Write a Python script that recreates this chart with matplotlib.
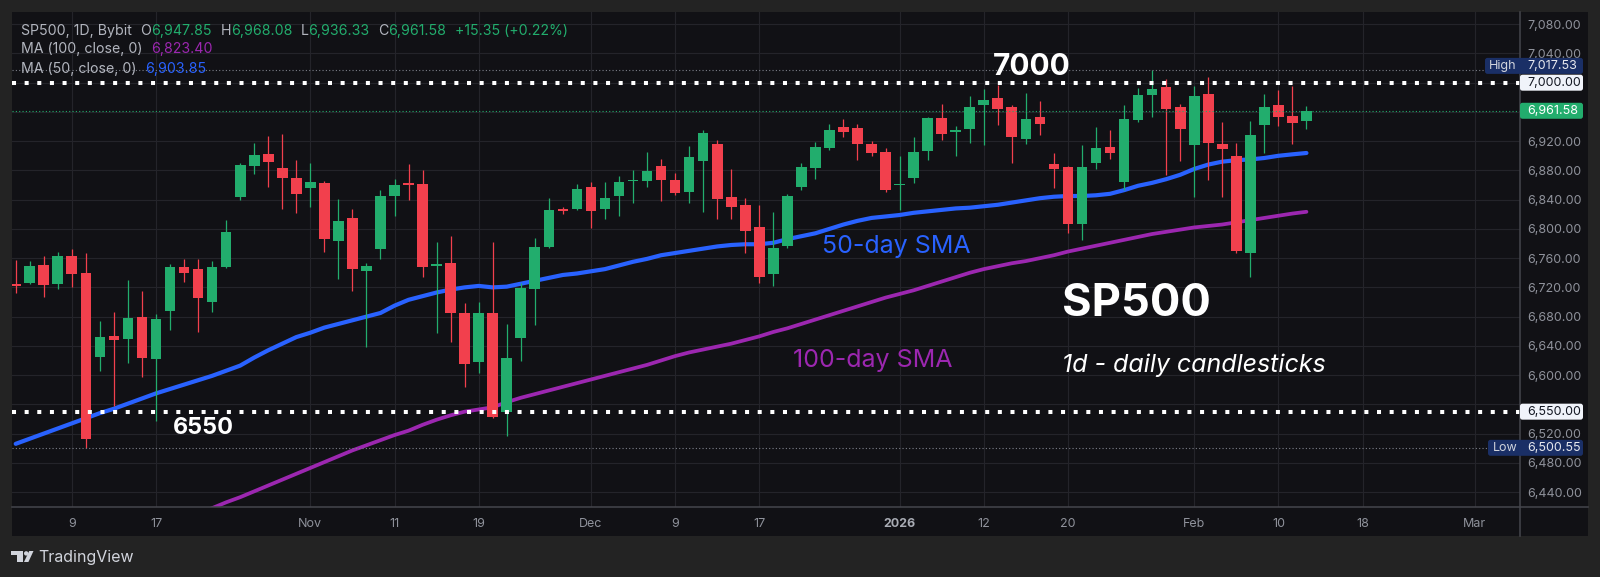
import matplotlib
matplotlib.use("Agg")
import matplotlib.pyplot as plt
import numpy as np
from matplotlib import font_manager as fm
from matplotlib.patches import Rectangle, FancyBboxPatch, Polygon, Circle
from matplotlib.transforms import IdentityTransform
from matplotlib.lines import Line2D

plt.rcParams['lines.scale_dashes'] = False

# ---------------- data ----------------
opens = [6724, 6725.6, 6750.2, 6724.6, 6762.9, 6740.1, 6624.4, 6653.5, 6649.0, 6679.9,
         6622.5, 6688.1, 6748.3, 6745.2, 6700.4, 6747.5, 6844.0, 6886.0, 6902.5, 6882.9,
         6869.6, 6856.4, 6862.8, 6783.0, 6814.9, 6742.4, 6772.1, 6845.4, 6862.4, 6861.4,
         6749.7, 6753.0, 6684.6, 6618.4, 6684.6, 6550.1, 6650.4, 6717.4, 6775.7, 6826.8,
         6826.8, 6857.7, 6827.6, 6845.4, 6865.1, 6865.1, 6886.0, 6867.3, 6850.5, 6893.3,
         6916.1, 6843.7, 6832.7, 6803.0, 6737.9, 6776.6, 6856.9, 6883.7, 6910.7, 6939.0,
         6937.6, 6915.7, 6904.8, 6860.0, 6869.6, 6907.0, 6951.3, 6933.0, 6936.2, 6969.9,
         6978.6, 6966.3, 6923.4, 6953.1, 6888.4, 6884.3, 6806.7, 6889.7, 6912.4, 6864.6,
         6949.0, 6983.6, 6994.5, 6967.2, 6915.2, 6984.5, 6915.7, 6899.7, 6767.5, 6941.7,
         6969.1, 6954.4, 6947.85]
highs = [6757.5, 6756.1, 6763.0, 6768.0, 6772.5, 6766.6, 6674.0, 6685.9, 6730.1, 6715.1,
         6683.6, 6751.6, 6758.4, 6758.8, 6756.5, 6812.2, 6890.6, 6917.9, 6927.5, 6929.4,
         6894.3, 6890.6, 6865.5, 6840.9, 6827.2, 6753.0, 6853.2, 6867.9, 6888.4, 6880.6,
         6782.1, 6790.3, 6698.3, 6699.6, 6782.1, 6669.9, 6725.6, 6787.2, 6841.9, 6830.4,
         6861.4, 6864.2, 6864.2, 6872.4, 6880.6, 6905.2, 6895.6, 6876.9, 6913.4, 6935.3,
         6921.6, 6882.4, 6841.9, 6832.7, 6823.5, 6847.7, 6890.6, 6918.5, 6943.5, 6949.9,
         6943.5, 6920.6, 6911.1, 6899.7, 6925.3, 6953.5, 6970.8, 6940.8, 6981.8, 6991.0,
         6996.4, 6969.5, 6985.5, 6975.0, 6904.2, 6886.0, 6914.8, 6939.0, 6935.3, 6969.5,
         6993.2, 7017.53, 7004.6, 6970.8, 6995.5, 7007.4, 6946.2, 6917.1, 6947.6, 6984.5,
         6990.0, 6995.5, 6968.08]
lows = [6711.9, 6724.6, 6707.3, 6718.2, 6721.0, 6500.55, 6606.1, 6558.2, 6616.2, 6597.0,
        6537.7, 6661.7, 6727.8, 6659.4, 6686.8, 6747.0, 6839.1, 6875.5, 6857.7, 6826.8,
        6821.3, 6829.6, 6768.0, 6731.1, 6715.5, 6638.9, 6758.4, 6818.1, 6839.5, 6733.8,
        6658.0, 6645.7, 6584.2, 6603.3, 6541.0, 6517.1, 6619.7, 6669.0, 6773.5, 6820.8,
        6825.9, 6801.7, 6813.1, 6818.1, 6835.9, 6856.9, 6837.8, 6846.4, 6835.0, 6823.5,
        6813.1, 6813.1, 6767.5, 6726.4, 6722.3, 6773.5, 6853.2, 6867.9, 6907.9, 6926.1,
        6894.3, 6900.1, 6850.5, 6825.9, 6862.4, 6894.3, 6921.6, 6900.1, 6917.9, 6914.8,
        6942.1, 6890.6, 6916.1, 6928.5, 6856.4, 6794.0, 6784.8, 6881.5, 6895.6, 6853.2,
        6946.2, 6952.7, 6873.3, 6893.3, 6844.0, 6866.9, 6844.0, 6767.5, 6734.6, 6904.2,
        6941.2, 6915.7, 6936.33]
closes = [6722, 6749.7, 6723.3, 6762.5, 6738.7, 6512.2, 6652.6, 6647.6, 6677.7, 6623.0,
          6676.3, 6748.3, 6740.1, 6705.1, 6748.3, 6795.8, 6887.0, 6901.1, 6891.1, 6869.2,
          6848.2, 6864.6, 6786.2, 6811.2, 6745.6, 6749.3, 6845.0, 6860.5, 6860.5, 6748.3,
          6751.6, 6685.4, 6614.8, 6685.4, 6543.1, 6623.4, 6718.8, 6775.3, 6825.9, 6824.5,
          6854.6, 6825.0, 6841.9, 6864.6, 6866.9, 6879.2, 6866.5, 6848.7, 6898.0, 6930.8,
          6840.9, 6829.6, 6797.5, 6734.6, 6774.3, 6845.0, 6884.3, 6912.4, 6935.3, 6933.0,
          6915.7, 6903.4, 6853.2, 6861.4, 6905.6, 6951.3, 6929.8, 6934.9, 6967.2, 6976.3,
          6963.6, 6926.1, 6949.9, 6943.5, 6882.4, 6806.7, 6885.1, 6911.1, 6904.2, 6950.3,
          6983.2, 6991.0, 6963.6, 6937.1, 6981.8, 6917.9, 6908.9, 6770.2, 6928.0, 6966.7,
          6953.5, 6945.3, 6961.58]

ma50 = [6506, 6513, 6520, 6527, 6534, 6541, 6548, 6554, 6561, 6568,
        6575, 6581, 6587, 6593, 6599, 6606, 6613, 6624, 6634, 6643,
        6652, 6658, 6665, 6670, 6675, 6680, 6685, 6695, 6703, 6708,
        6713, 6717, 6720, 6722, 6720, 6721, 6725, 6729, 6733, 6737,
        6739, 6742, 6745, 6750, 6755, 6759, 6764, 6767, 6770, 6773,
        6776, 6778, 6779, 6779, 6781, 6786, 6790, 6794, 6800, 6806,
        6811, 6815, 6817, 6819, 6822, 6824, 6826, 6828, 6829, 6831,
        6833, 6836, 6839, 6842, 6844, 6845, 6845, 6846, 6848, 6853,
        6859, 6863, 6868, 6874, 6882, 6888, 6892, 6894, 6895, 6897,
        6900, 6902, 6903.85]

ma100 = [None] * 13 + [
        6410, 6418, 6426, 6433, 6441, 6449, 6457, 6465, 6473, 6481,
        6489, 6497, 6504, 6511, 6518, 6524, 6532, 6539, 6545, 6550,
        6553, 6556, 6563, 6569, 6574, 6579, 6584, 6589, 6594, 6599,
        6604, 6609, 6614, 6620, 6626, 6631, 6635, 6639, 6643, 6648,
        6653, 6659, 6664, 6670, 6676, 6682, 6688, 6694, 6700, 6706,
        6711, 6716, 6722, 6728, 6734, 6740, 6745, 6749, 6753, 6756,
        6760, 6764, 6769, 6773, 6777, 6781, 6785, 6789, 6793, 6796,
        6799, 6802, 6804, 6806, 6809, 6812, 6815, 6818, 6821, 6823.4]

time_labels = ["9", "17", "Nov", "11", "19", "Dec", "9", "17", "2026",
               "12", "20", "Feb", "10", "18", "Mar"]
time_label_bars = [4, 10, 21, 27, 33, 41, 47, 53, 63, 69, 75, 84, 90, 96, 104]
price_ticks = list(range(6440, 7081, 40))

level_values = [7000, 6550]
level_labels = ["7000", "6550"]
range_high = 7017.53
range_low = 6500.55

legend_symbol = "SP500, 1D, Bybit"
change_text = "+15.35 (+0.22%)"
ma100_name = "MA (100, close, 0)"
ma50_name = "MA (50, close, 0)"

# ---------------- fonts ----------------
def pick(cands, weight='normal', style='normal'):
    for fam in cands:
        try:
            p = fm.findfont(fm.FontProperties(family=fam, weight=weight, style=style),
                            fallback_to_default=False)
        except Exception:
            continue
        name = p.lower().split('/')[-1].replace(' ', '').replace('-', '').replace('_', '')
        if fam.lower().replace(' ', '') not in name:
            continue
        if weight == 'bold' and 'bold' not in name:
            continue
        if style == 'italic' and not ('italic' in name or 'oblique' in name):
            continue
        return fam
    return 'DejaVu Sans'

CANDS = ['Inter', 'Roboto', 'Open Sans', 'Lato', 'Liberation Sans', 'DejaVu Sans']
F_REG = pick(CANDS)
F_BOLD = pick(CANDS, weight='bold')
F_ITAL = pick(CANDS, style='italic')
plt.rcParams['font.family'] = [F_REG, 'DejaVu Sans']

# ---------------- colors ----------------
BG_OUT = '#232323'
BG = '#111115'
GRID = '#24242a'
UP = '#22ad6d'
DN = '#f2404d'
BLUE = '#2962ff'
PURPLE = '#9c27b0'
TXT = '#b2b5be'
AXTXT = '#8f929b'

W, H = 1600, 577
fig = plt.figure(figsize=(W / 100, H / 100), dpi=100, facecolor=BG_OUT)
I = IdentityTransform()

# panels behind axes (price scale + time scale)
fig.add_artist(Rectangle((12, H - 536), 1588 - 12, 536 - 12, transform=I,
                         fc=BG, ec='none', zorder=-5))

ax = fig.add_axes([12 / W, (H - 506.7) / H, (1519.7 - 12) / W, (506.7 - 12) / H])
ax.set_facecolor(BG)
ax.set_xlim(-0.264, 107.2)
ax.set_ylim(6420.0, 7096.7)
for s in ax.spines.values():
    s.set_visible(False)

# price scale labels that sit under a marker box are hidden (as in the reference)
covered = set(level_values) | {6960, 6560}
ax.set_yticks(price_ticks, ["" if v in covered else f"{v:,.2f}" for v in price_ticks])
ax.yaxis.tick_right()
ax.tick_params(axis='y', length=0, pad=5.3, labelsize=9, labelcolor=AXTXT)
ax.set_xticks(time_label_bars, time_labels)
ax.tick_params(axis='x', length=0, pad=8, labelsize=9, labelcolor=AXTXT)
for lbl in ax.get_xticklabels():
    if lbl.get_text() == '2026':
        lbl.set_fontweight('bold')
        lbl.set_family([F_BOLD, 'DejaVu Sans'])
        lbl.set_color('#a9acb4')
ax.grid(True, color=GRID, lw=0.8)
ax.set_axisbelow(True)

# moving averages (behind candles)
idx = np.arange(len(closes))
ax.plot(idx, ma50, color=BLUE, lw=3.0, zorder=2, solid_capstyle='round')
ma100_arr = np.array([np.nan if v is None else v for v in ma100], dtype=float)
ax.plot(idx, ma100_arr, color=PURPLE, lw=2.7, zorder=2, solid_capstyle='round')

# candles
o = np.array(opens); hh = np.array(highs); ll = np.array(lows); c = np.array(closes)
cols = np.where(c >= o, UP, DN)
ax.vlines(idx, ll, hh, colors=cols, lw=0.9, zorder=3)
ax.bar(idx, np.maximum(np.abs(c - o), 1.8), bottom=np.minimum(o, c), width=0.76,
       color=cols, lw=0, zorder=4)

# horizontal reference lines
for v in level_values:
    ax.axhline(v, color='white', lw=2.9, ls=(0, (2.9, 6.2)), dash_capstyle='butt', zorder=6)
for v in (range_high, range_low):
    ax.axhline(v, color='#7d808a', lw=0.8, ls=(0, (0.8, 1.6)), zorder=5)
ax.axhline(closes[-1], color=UP, lw=0.8, ls=(0, (0.8, 1.6)), zorder=5)

# annotations on chart
ax.text(72.4, 7010.5, level_labels[0], color='white', fontsize=21.5, fontweight='bold',
        family=[F_BOLD, 'DejaVu Sans'], ha='center', va='baseline', zorder=7)
ax.text(13.35, 6519.5, level_labels[1], color='white', fontsize=16.8, fontweight='bold',
        family=[F_BOLD, 'DejaVu Sans'], ha='center', va='baseline', zorder=7)
ax.text(74.55, 6680.9, "SP500", color='white', fontsize=32.5, fontweight='bold',
        family=[F_BOLD, 'DejaVu Sans'], ha='left', va='baseline', zorder=7)
ax.text(74.55, 6604.7, "1d - daily candlesticks", color='white', fontsize=18,
        style='italic', family=[F_ITAL, 'DejaVu Sans'], ha='left', va='baseline', zorder=7)
ax.text(57.45, 6766.6, "50-day SMA", color=BLUE, fontsize=18, ha='left', va='baseline', zorder=7)
ax.text(55.42, 6611.5, "100-day SMA", color=PURPLE, fontsize=18, ha='left', va='baseline', zorder=7)

# separators
fig.add_artist(Line2D([1519.7, 1519.7], [H - 536, H - 12], transform=I, color='#45464d', lw=1.1, zorder=20))
fig.add_artist(Line2D([12, 1588], [H - 506.7, H - 506.7], transform=I, color='#45464d', lw=1.1, zorder=20))

# price-scale marker labels
def ydisp(v):
    return ax.transData.transform((0, v))[1]

def box(x0, x1, yc, fc, h=16):
    fig.add_artist(FancyBboxPatch((x0, yc - h / 2), x1 - x0, h,
                                  boxstyle='round,pad=0,rounding_size=2.5',
                                  transform=I, fc=fc, ec='none', zorder=30))

def ftext(x, y, s, color, **kw):
    fig.text(x, y, s, transform=I, color=color, fontsize=9, va='center', ha='left',
             zorder=31, **kw)

yh = ydisp(range_high) + 4
box(1485, 1583, yh, '#1a2f66')
ftext(1489, yh, "High", '#d1d4dc')
ftext(1527, yh, f"{range_high:,.2f}", '#e6e8ee')

yl = ydisp(range_low)
box(1488, 1583, yl, '#1a2f66')
ftext(1493, yl, "Low", '#d1d4dc')
ftext(1527, yl, f"{range_low:,.2f}", '#e6e8ee')

for v in level_values:
    yv = ydisp(v)
    box(1520, 1583, yv, '#f0f3fa')
    ftext(1527, yv, f"{v:,.2f}", '#131722')

yc_ = ydisp(closes[-1])
box(1520, 1583, yc_, UP)
ftext(1527, yc_, f"{closes[-1]:,.2f}", 'white')

# legend (top-left)
def rainbow(x, ytop, parts, size=10.2):
    prev = None
    for s, col, gap in parts:
        if prev is None:
            prev = ax.annotate(s, xy=(x, H - ytop), xycoords='figure pixels', va='center',
                               ha='left', color=col, fontsize=size, annotation_clip=False, zorder=8)
        else:
            prev = ax.annotate(s, xy=(1, 0.5), xycoords=prev, xytext=(gap, 0),
                               textcoords='offset points', va='center', ha='left', color=col,
                               fontsize=size, annotation_clip=False, zorder=8)

rainbow(21.4, 30.7, [(legend_symbol, TXT, 0),
                     ("O", TXT, 6), (f"{opens[-1]:,.2f}", UP, 0),
                     ("H", TXT, 6), (f"{highs[-1]:,.2f}", UP, 0),
                     ("L", TXT, 6), (f"{lows[-1]:,.2f}", UP, 0),
                     ("C", TXT, 6), (f"{closes[-1]:,.2f}", UP, 0),
                     (change_text, UP, 6)])
rainbow(21.4, 49.3, [(ma100_name, TXT, 0), (f"{ma100[-1]:,.2f}", PURPLE, 6)])
rainbow(21.4, 69.0, [(ma50_name, TXT, 0), (f"{ma50[-1]:,.2f}", BLUE, 6)])

# TradingView logo (bottom-left)
LOGO = '#d1d4dc'
def tp(pts):
    return [(x, H - y) for x, y in pts]
fig.add_artist(Polygon(tp([(11, 551), (23.3, 551), (23.3, 562), (17.3, 562), (17.3, 555.3), (11, 555.3)]),
                       closed=True, transform=I, fc=LOGO, ec='none', zorder=30))
fig.add_artist(Circle((26.2, H - 553.4), 2.2, transform=I, fc=LOGO, ec='none', zorder=30))
fig.add_artist(Polygon(tp([(29.2, 551), (33.5, 551), (28.4, 562), (24.0, 562)]),
                       closed=True, transform=I, fc=LOGO, ec='none', zorder=30))
fig.text(38.5, H - 557.3, "TradingView", transform=I, color=LOGO, fontsize=11.5,
         va='center', ha='left', zorder=31)

fig.savefig("out.png", dpi=100, facecolor=BG_OUT)
